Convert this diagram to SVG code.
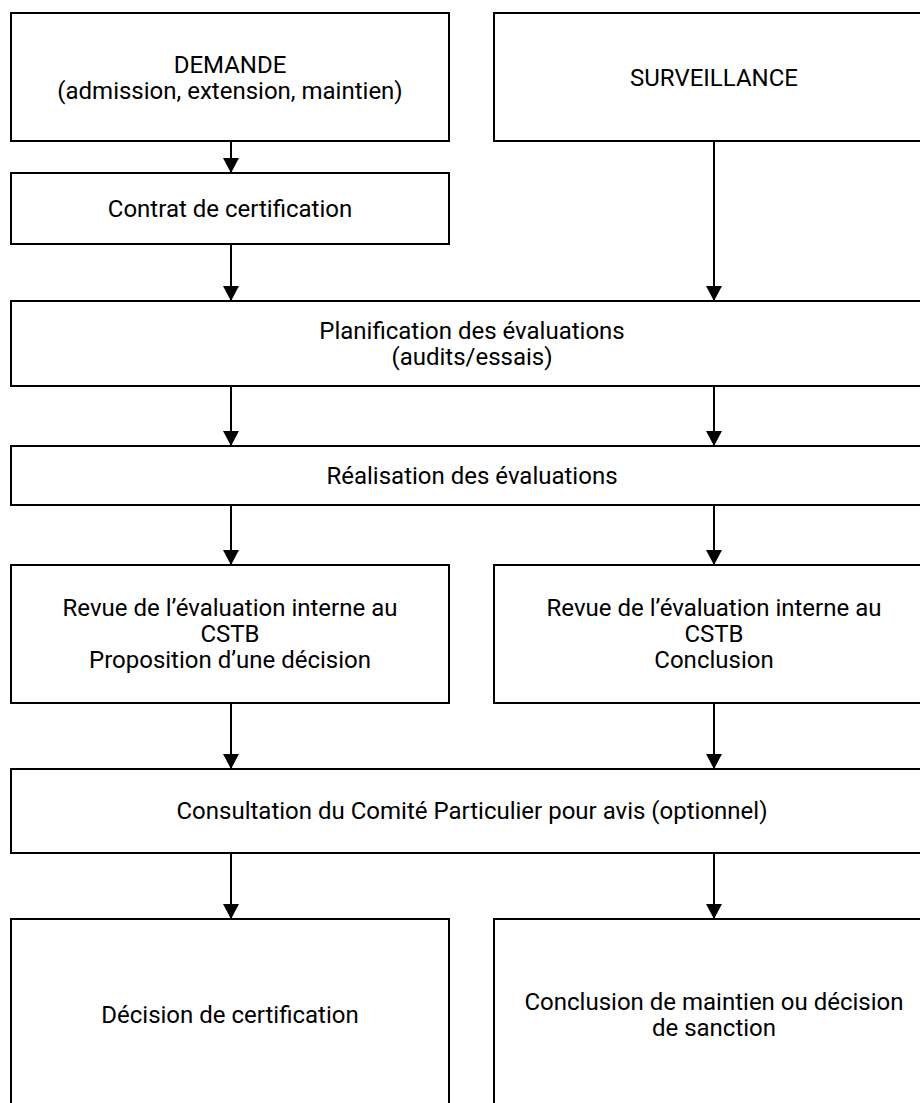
<svg xmlns="http://www.w3.org/2000/svg" width="920" height="1103" viewBox="0 0 920 1103">
  <defs>
    <style>
      .box { fill: #ffffff; stroke: #000000; stroke-width: 2; }
      .lbl { font-family: Roboto, "Liberation Sans", sans-serif; font-size: 24px; fill: #000000; text-anchor: middle; }
      .conn { stroke: #000000; stroke-width: 2; fill: none; marker-end: url(#arrow); }
    </style>
    <marker id="arrow" markerUnits="userSpaceOnUse" markerWidth="16" markerHeight="16" refX="15" refY="8" orient="auto">
      <path d="M0,0 L15,8 L0,16 z" fill="#000000"/>
    </marker>
  </defs>
  <rect x="0" y="0" width="920" height="1103" fill="#ffffff"/>

  <g id="demande">
    <rect class="box" x="11" y="13" width="438" height="128"/>
    <text class="lbl" x="230" y="73">DEMANDE</text>
    <text class="lbl" x="230" y="99">(admission, extension, maintien)</text>
  </g>
  <g id="surveillance">
    <rect class="box" x="494" y="13" width="440" height="128"/>
    <text class="lbl" x="714" y="86">SURVEILLANCE</text>
  </g>
  <g id="contrat">
    <rect class="box" x="11" y="173" width="438" height="71"/>
    <text class="lbl" x="230" y="217">Contrat de certification</text>
  </g>
  <g id="planification">
    <rect class="box" x="11" y="301" width="923" height="85"/>
    <text class="lbl" x="472" y="339">Planification des évaluations</text>
    <text class="lbl" x="472" y="365">(audits/essais)</text>
  </g>
  <g id="realisation">
    <rect class="box" x="11" y="446" width="923" height="59"/>
    <text class="lbl" x="472" y="484">Réalisation des évaluations</text>
  </g>
  <g id="revue-gauche">
    <rect class="box" x="11" y="565" width="438" height="138"/>
    <text class="lbl" x="230" y="616">Revue de l’évaluation interne au</text>
    <text class="lbl" x="230" y="642">CSTB</text>
    <text class="lbl" x="230" y="668">Proposition d’une décision</text>
  </g>
  <g id="revue-droite">
    <rect class="box" x="494" y="565" width="440" height="138"/>
    <text class="lbl" x="714" y="616">Revue de l’évaluation interne au</text>
    <text class="lbl" x="714" y="642">CSTB</text>
    <text class="lbl" x="714" y="668">Conclusion</text>
  </g>
  <g id="consultation">
    <rect class="box" x="11" y="769" width="923" height="84"/>
    <text class="lbl" x="472" y="819">Consultation du Comité Particulier pour avis (optionnel)</text>
  </g>
  <g id="decision">
    <rect class="box" x="11" y="919" width="438" height="200"/>
    <text class="lbl" x="230" y="1023">Décision de certification</text>
  </g>
  <g id="conclusion">
    <rect class="box" x="494" y="919" width="440" height="200"/>
    <text class="lbl" x="714" y="1010">Conclusion de maintien ou décision</text>
    <text class="lbl" x="714" y="1036">de sanction</text>
  </g>

  <g id="connectors">
    <line class="conn" x1="231" y1="141" x2="231" y2="173"/>
    <line class="conn" x1="231" y1="244" x2="231" y2="301"/>
    <line class="conn" x1="714" y1="141" x2="714" y2="301"/>
    <line class="conn" x1="231" y1="386" x2="231" y2="446"/>
    <line class="conn" x1="714" y1="386" x2="714" y2="446"/>
    <line class="conn" x1="231" y1="505" x2="231" y2="565"/>
    <line class="conn" x1="714" y1="505" x2="714" y2="565"/>
    <line class="conn" x1="231" y1="703" x2="231" y2="769"/>
    <line class="conn" x1="714" y1="703" x2="714" y2="769"/>
    <line class="conn" x1="231" y1="853" x2="231" y2="919"/>
    <line class="conn" x1="714" y1="853" x2="714" y2="919"/>
  </g>
</svg>
